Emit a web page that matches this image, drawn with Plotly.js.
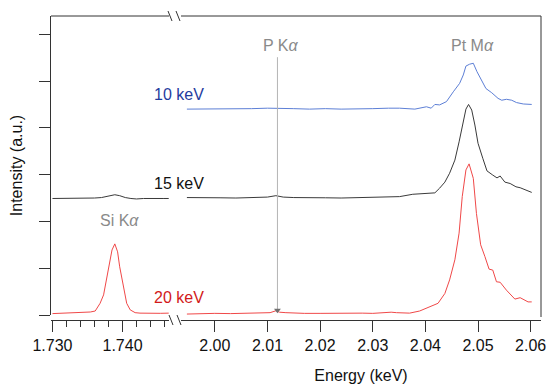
<!DOCTYPE html>
<html><head><meta charset="utf-8">
<script src="https://cdn.plot.ly/plotly-3.0.1.min.js"></script>
<style>html,body{margin:0;padding:0;background:#fff}#chart{width:549px;height:388px}</style>
</head><body><div id="chart"></div>
<script>
// Left panel (Si K-alpha region)
const eLeft = [1.7300,1.7311,1.7325,1.7339,1.7354,1.7361,1.7368,1.7373,1.7377,1.7382,1.7385,1.7389,1.7393,1.7396,1.7401,1.7406,1.7411,1.7418,1.7425,1.7435,1.7445,1.7454,1.7466];
const red20Left = [0.03,0.036,0.036,0.04,0.064,0.085,0.25,0.43,0.75,1.18,1.39,1.52,1.35,1.03,0.60,0.25,0.11,0.05,0.04,0.036,0.045,0.036,0.04];
const eLeftB = [1.7300,1.7315,1.7330,1.7345,1.7360,1.7370,1.7380,1.7389,1.7396,1.7404,1.7412,1.7420,1.7430,1.7440,1.7450,1.7458,1.7466];
const black15Left = [2.49,2.49,2.495,2.49,2.50,2.51,2.54,2.57,2.55,2.51,2.49,2.48,2.49,2.495,2.49,2.49,2.49];

// Right panel (P K-alpha / Pt M-alpha region)
const eRed = [1.9947,1.9970,2.0000,2.0030,2.0060,2.0090,2.0105,2.0116,2.0123,2.0135,2.0150,2.0170,2.0200,2.0230,2.0260,2.0280,2.0300,2.0320,2.0335,2.0345,2.0351,2.0370,2.0389,2.0408,2.0424,2.0437,2.0446,2.0456,2.0464,2.0470,2.0477,2.0483,2.0491,2.0497,2.0505,2.0513,2.0521,2.0528,2.0535,2.0542,2.0554,2.0570,2.0580,2.0595,2.0602];
const red20Right = [0.02,0.03,0.035,0.03,0.04,0.04,0.05,0.09,0.06,0.05,0.04,0.035,0.035,0.04,0.045,0.04,0.035,0.05,0.06,0.05,0.05,0.04,0.085,0.18,0.25,0.46,0.75,1.18,1.75,2.53,3.10,3.23,2.92,2.17,1.50,1.25,0.98,0.96,0.71,0.70,0.53,0.34,0.37,0.28,0.28];
const eBlack = [1.9947,1.9980,2.0010,2.0040,2.0070,2.0100,2.0116,2.0130,2.0150,2.0180,2.0210,2.0240,2.0270,2.0300,2.0320,2.0340,2.0351,2.0376,2.0395,2.0418,2.0427,2.0437,2.0446,2.0456,2.0464,2.0472,2.0477,2.0482,2.0488,2.0494,2.0500,2.0509,2.0517,2.0528,2.0536,2.0542,2.0551,2.0561,2.0572,2.0580,2.0592,2.0602];
const black15Right = [2.51,2.50,2.505,2.50,2.51,2.52,2.55,2.52,2.51,2.50,2.505,2.50,2.51,2.51,2.53,2.53,2.53,2.58,2.59,2.61,2.71,2.84,3.03,3.31,3.70,4.13,4.40,4.50,4.38,4.06,3.67,3.35,3.08,2.99,2.93,2.97,2.84,2.81,2.74,2.72,2.67,2.62];
const eBlue = [1.9947,1.9980,2.0010,2.0040,2.0070,2.0100,2.0120,2.0150,2.0180,2.0210,2.0240,2.0270,2.0300,2.0330,2.0351,2.0380,2.0402,2.0411,2.0418,2.0427,2.0440,2.0453,2.0465,2.0472,2.0477,2.0484,2.0491,2.0498,2.0507,2.0515,2.0526,2.0538,2.0545,2.0554,2.0564,2.0573,2.0586,2.0602];
const blue10Right = [4.40,4.40,4.41,4.40,4.41,4.42,4.42,4.41,4.40,4.41,4.40,4.40,4.41,4.42,4.42,4.40,4.45,4.42,4.50,4.49,4.56,4.77,4.95,5.13,5.32,5.36,5.38,5.20,4.99,4.84,4.75,4.63,4.59,4.61,4.59,4.54,4.51,4.50];

// P K-alpha marker line
const pKaEnergy = 2.0119;
const pKaLine = [0.06, 5.51];
const pKaArrowY = 0.10;

const leftTicks = [1.730, 1.740];
const rightTicks = [2.00, 2.01, 2.02, 2.03, 2.04, 2.05, 2.06];
const yTicks = [0, 1, 2, 3, 4, 5, 6];

const RED = '#f04848', BLACK = '#3a3a3a', BLUE = '#5d7fd6';
const FONT = 'Liberation Sans, Arial, sans-serif';
const FS = 16;

const line = (c) => ({color: c, width: 1});
const traces = [
  {x: eLeft, y: red20Left, xaxis: 'x', yaxis: 'y', mode: 'lines', line: line(RED), hoverinfo: 'skip'},
  {x: eLeftB, y: black15Left, xaxis: 'x', yaxis: 'y', mode: 'lines', line: line(BLACK), hoverinfo: 'skip'},
  {x: eRed, y: red20Right, xaxis: 'x2', yaxis: 'y', mode: 'lines', line: line(RED), hoverinfo: 'skip'},
  {x: eBlack, y: black15Right, xaxis: 'x2', yaxis: 'y', mode: 'lines', line: line(BLACK), hoverinfo: 'skip'},
  {x: eBlue, y: blue10Right, xaxis: 'x2', yaxis: 'y', mode: 'lines', line: line(BLUE), hoverinfo: 'skip'},
  {x: [pKaEnergy, pKaEnergy], y: pKaLine, xaxis: 'x2', yaxis: 'y', mode: 'lines', line: {color: '#b4b4b4', width: 1}, hoverinfo: 'skip'},
  {x: [pKaEnergy], y: [pKaArrowY], xaxis: 'x2', yaxis: 'y', mode: 'markers', marker: {symbol: 'triangle-down', size: 6, color: '#707070'}, hoverinfo: 'skip'}
];

// plot area: l=51, t=16, w=490, h=304
const px = (p) => (p - 51) / 490;
const py = (p) => (320 - p) / 304;
const axLine = {color: '#333', width: 1};
const shapes = [
  {type: 'line', xref: 'paper', yref: 'paper', x0: px(51), x1: px(169), y0: py(16), y1: py(16), line: axLine},
  {type: 'line', xref: 'paper', yref: 'paper', x0: px(181), x1: px(541), y0: py(16), y1: py(16), line: axLine},
  {type: 'line', xref: 'paper', yref: 'paper', x0: px(541), x1: px(541), y0: py(16), y1: py(317), line: axLine},
  {type: 'line', xref: 'paper', yref: 'paper', x0: px(168), x1: px(172), y0: py(11), y1: py(21), line: axLine},
  {type: 'line', xref: 'paper', yref: 'paper', x0: px(176), x1: px(180), y0: py(11), y1: py(21), line: axLine},
  {type: 'line', xref: 'paper', yref: 'paper', x0: px(169), x1: px(173), y0: py(315), y1: py(325), line: axLine},
  {type: 'line', xref: 'paper', yref: 'paper', x0: px(177), x1: px(181), y0: py(315), y1: py(325), line: axLine}
];

const ann = (text, x, y, color) => ({text, x: px(x), y: py(y), xref: 'paper', yref: 'paper', showarrow: false, xanchor: 'center', yanchor: 'middle', font: {family: FONT, size: FS, color}});
const annotations = [
  ann('10 keV', 179, 95, '#1f3c9e'),
  ann('15 keV', 179, 183, '#111111'),
  ann('20 keV', 179, 297, '#d21a1a'),
  ann('Si K<i>α</i>', 119, 220, '#8a8a8a'),
  ann('P K<i>α</i>', 281, 45, '#8a8a8a'),
  ann('Pt M<i>α</i>', 472, 45, '#8a8a8a')
];

const xCommon = {
  anchor: 'free', position: 0, showline: true, linecolor: '#333', linewidth: 1,
  ticks: 'outside', ticklen: 11, tickcolor: '#333', tickwidth: 1,
  showgrid: false, zeroline: false, tickfont: {family: FONT, size: FS, color: '#111'}
};

const layout = {
  width: 549, height: 388,
  margin: {l: 51, r: 8, t: 16, b: 68},
  paper_bgcolor: '#fff', plot_bgcolor: '#fff',
  showlegend: false,
  font: {family: FONT, size: FS, color: '#111'},
  xaxis: Object.assign({}, xCommon, {
    domain: [0, px(169)], range: [1.72979, 1.74664],
    tickmode: 'array', tickvals: leftTicks, ticktext: leftTicks.map(v => v.toFixed(3)),
    minor: {ticks: 'outside', ticklen: 6, tickcolor: '#333', tick0: 1.730, dtick: 0.002, showgrid: false}
  }),
  xaxis2: Object.assign({}, xCommon, {
    domain: [px(181), 1], range: [1.99358, 2.06196],
    tickmode: 'array', tickvals: rightTicks, ticktext: rightTicks.map(v => v.toFixed(2)),
    title: {text: 'Energy (keV)', font: {family: FONT, size: FS, color: '#111'}, standoff: 16}
  }),
  yaxis: {
    domain: [py(315), 1], range: [0, 6.39],
    showline: true, linecolor: '#333', linewidth: 1,
    ticks: 'outside', ticklen: 11, tickcolor: '#333', tickwidth: 1,
    tickmode: 'array', tickvals: yTicks, showticklabels: false,
    showgrid: false, zeroline: false,
    title: {text: 'Intensity (a.u.)', font: {family: FONT, size: FS, color: '#111'}, standoff: 12}
  },
  shapes, annotations
};

Plotly.newPlot('chart', traces, layout, {staticPlot: true, displayModeBar: false});
</script></body></html>
